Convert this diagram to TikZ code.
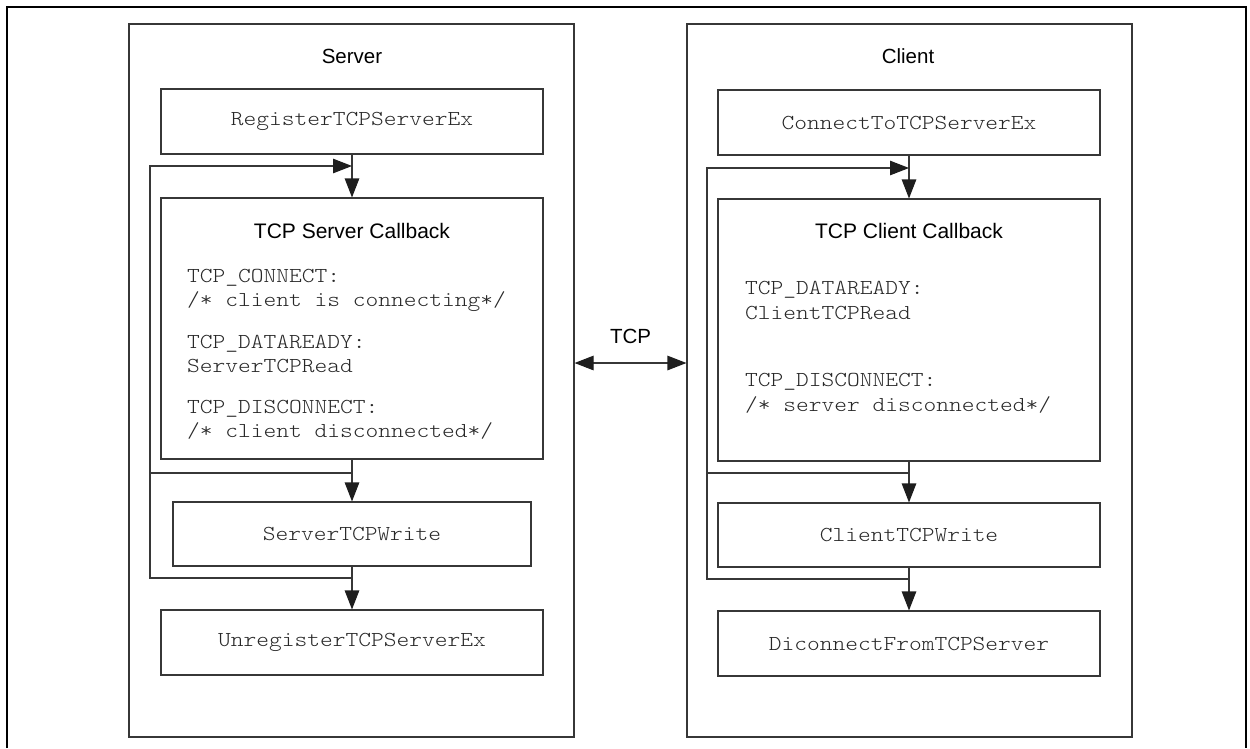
\documentclass[tikz,border=0pt]{standalone}
\usepackage{fontspec}
\setmainfont{Liberation Sans}
\setmonofont{lmmonolt10-regular.otf}[FakeStretch=1.14]
\usetikzlibrary{arrows.meta}
\definecolor{linec}{RGB}{55,55,55}
\definecolor{tipc}{RGB}{30,30,30}
\definecolor{codec}{RGB}{40,40,40}
\tikzset{
  panel/.style={draw=linec, line width=1.1pt, inner sep=0pt},
  box/.style={draw=linec, line width=1.1pt, inner sep=0pt, minimum width=382pt, minimum height=65pt,
    text=codec, font=\ttfamily\fontsize{21.3}{24}\selectfont},
  code/.style={inner sep=0pt, anchor=base west, text=codec, font=\ttfamily\fontsize{21.3}{24}\selectfont},
  ttl/.style={inner sep=0pt, anchor=base, font=\fontsize{21}{24}\selectfont},
  hdr/.style={inner sep=0pt, anchor=base, font=\fontsize{20.5}{24}\selectfont},
  tip/.tip={Triangle[length=19pt,width=14.5pt,fill=tipc,color=tipc]},
  flow/.style={draw=linec, line width=1.1pt, -tip},
  plain/.style={draw=linec, line width=1.1pt},
  both/.style={draw=linec, line width=1.1pt, tip-tip},
}
\begin{document}
\begin{tikzpicture}[x=1pt,y=-1pt]
\useasboundingbox (0,0) rectangle (1250,748);
% outer frame
\coordinate (fa) at (7,748);
\coordinate (fb) at (7,7);
\coordinate (fc) at (1246,7);
\coordinate (fd) at (1246,748);
\draw[line width=2pt] (fa) -- (fb) -- (fc) -- (fd);

% panels
\node[panel, minimum width=445pt, minimum height=713pt] (srv) at (351.5,380.5) {};
\node[panel, minimum width=445pt, minimum height=713pt] (cli) at (909.5,380.5) {};
\node[hdr] (srvT) at (352,63) {Server};
\node[hdr] (cliT) at (908,63) {Client};

% server column
\node[box] (reg) at (352,121.5) {RegisterTCPServerEx};
\node[box, minimum height=261pt] (scb) at (352,328.5) {};
\node[ttl] (scbT) at (352,238) {TCP Server Callback};
\node[code] (s1a) at (187,282) {TCP\_CONNECT:};
\node[code] (s1b) at (187,306) {/* client is connecting*/};
\node[code] (s2a) at (187,348) {TCP\_DATAREADY:};
\node[code] (s2b) at (187,372) {ServerTCPRead};
\node[code] (s3a) at (187,413) {TCP\_DISCONNECT:};
\node[code] (s3b) at (187,437) {/* client disconnected*/};
\node[box, minimum width=358pt, minimum height=64pt] (swr) at (352,534) {ServerTCPWrite};
\node[box] (unr) at (352,642.5) {UnregisterTCPServerEx};

% client column
\node[box] (con) at (909,122.5) {ConnectToTCPServerEx};
\node[box, minimum height=262pt] (ccb) at (909,330) {};
\node[ttl] (ccbT) at (909,238) {TCP Client Callback};
\node[code] (c1a) at (745,294) {TCP\_DATAREADY:};
\node[code] (c1b) at (745,319) {ClientTCPRead};
\node[code] (c2a) at (745,386) {TCP\_DISCONNECT:};
\node[code] (c2b) at (745,411) {/* server disconnected*/};
\node[box, minimum height=64pt] (cwr) at (909,535) {ClientTCPWrite};
\node[box] (dis) at (909,643.5) {DiconnectFromTCPServer};

% server flow
\draw[flow] (reg.south) -- (scb.north);
\draw[flow] (scb.south) -- (swr.north);
\draw[flow] (swr.south) -- (unr.north);
\coordinate (sj1) at (352,473);
\coordinate (sj2) at (352,578);
\coordinate (sj3) at (352,166);
\coordinate (sL) at (150,166);
\draw[flow] (sj2) -| (sL) -- (sj3);
\draw[plain] (sj1) -- (sj1 -| sL);

% client flow
\draw[flow] (con.south) -- (ccb.north);
\draw[flow] (ccb.south) -- (cwr.north);
\draw[flow] (cwr.south) -- (dis.north);
\coordinate (cj1) at (909,473);
\coordinate (cj2) at (909,579);
\coordinate (cj3) at (909,168);
\coordinate (cL) at (707,168);
\draw[flow] (cj2) -| (cL) -- (cj3);
\draw[plain] (cj1) -- (cj1 -| cL);

% TCP link
\node[hdr] (tcp) at (630.5,343) {TCP};
\coordinate (ay) at (630,363);
\draw[both] (srv.east |- ay) -- (cli.west |- ay);
\end{tikzpicture}
\end{document}
